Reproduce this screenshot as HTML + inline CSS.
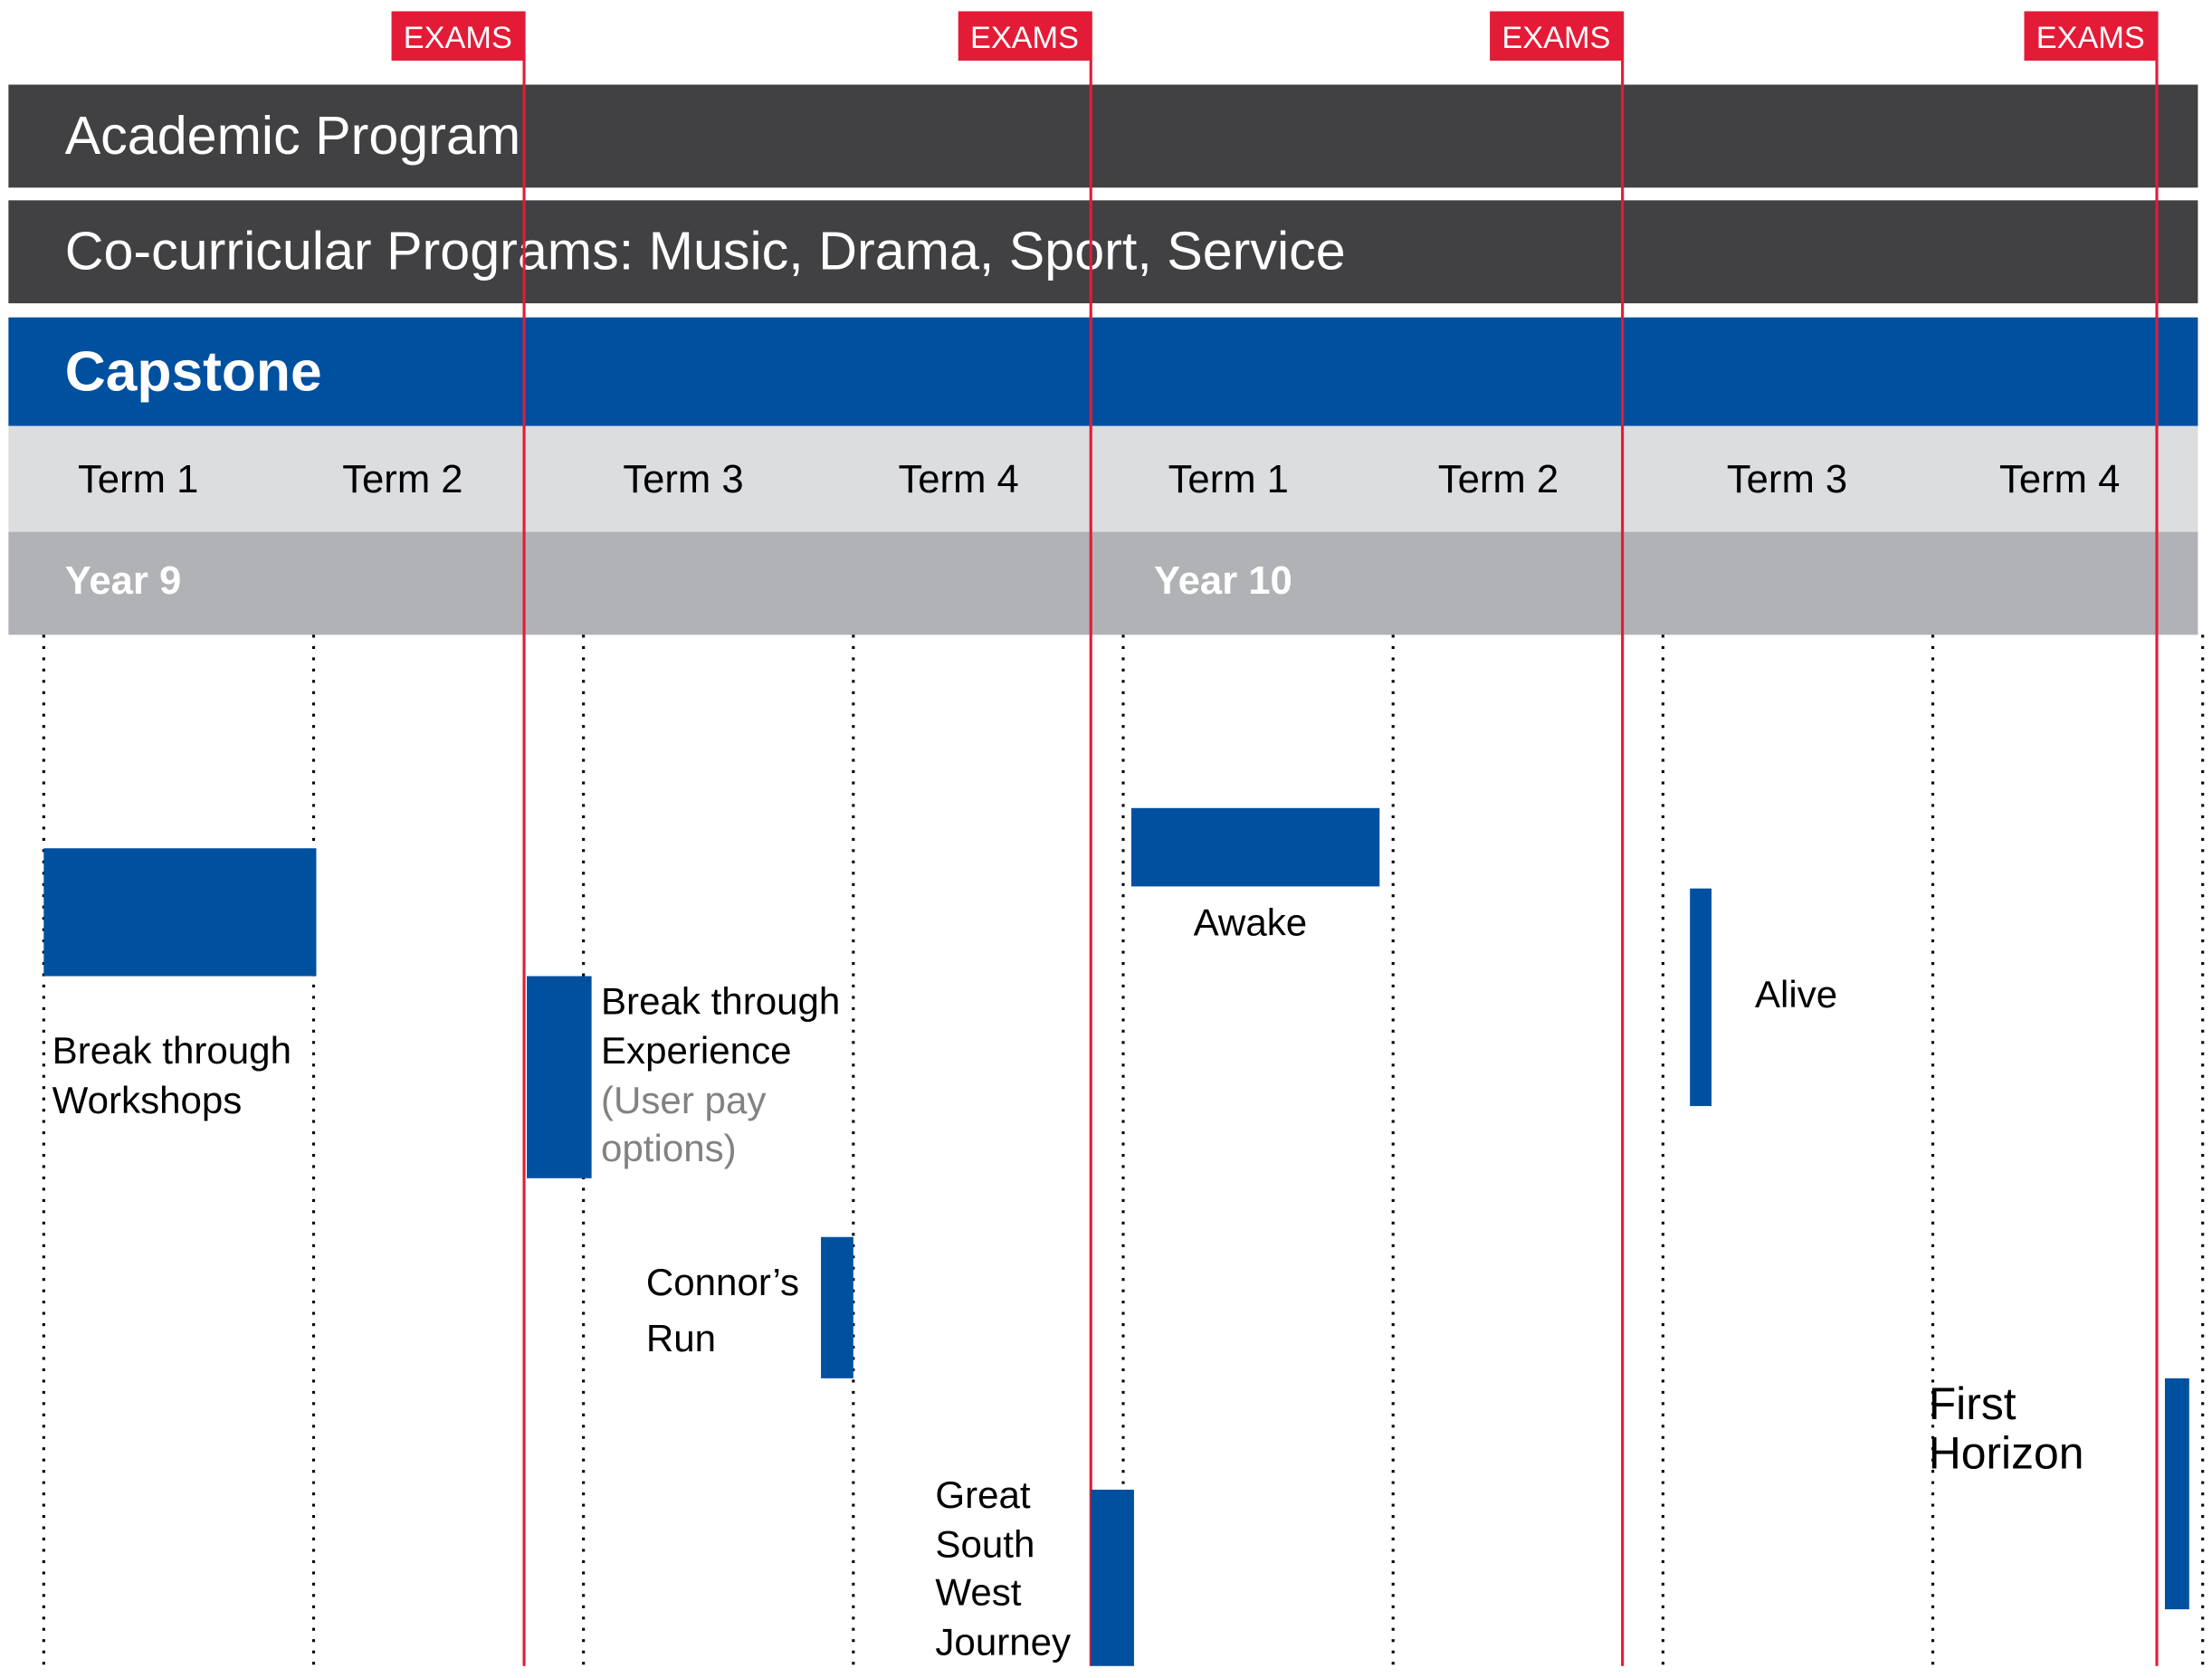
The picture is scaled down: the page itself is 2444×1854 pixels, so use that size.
<!DOCTYPE html>
<html><head><meta charset="utf-8">
<style>
html,body{margin:0;padding:0;background:#fff;}
svg{display:block;}
text{font-family:"Liberation Sans Narrow","Liberation Sans",sans-serif;}
</style></head>
<body>
<svg id="chart" width="2444" height="1854" viewBox="0 0 1568 1189.5" preserveAspectRatio="none" xmlns="http://www.w3.org/2000/svg">
  <rect x="6" y="60" width="1552" height="73" fill="#414042"/>
  <text x="46" y="109" font-size="38" fill="#fff">Academic Program</text>
  <rect x="6" y="142" width="1552" height="73" fill="#414042"/>
  <text x="46" y="191" font-size="38" fill="#fff">Co-curricular Programs: Music, Drama, Sport, Service</text>
  <rect x="6" y="225" width="1552" height="77" fill="#0050a0"/>
  <text x="46" y="277" font-size="40" font-weight="bold" fill="#fff">Capstone</text>
  <rect x="6" y="302" width="1552" height="75" fill="#dcdddf"/>
  <rect x="6" y="377" width="1552" height="73" fill="#b1b2b5"/>
  <text x="46" y="421" font-size="28" font-weight="bold" fill="#fff">Year 9</text>
  <text x="818" y="421" font-size="28" font-weight="bold" fill="#fff">Year 10</text>
  <g id="terms"></g>
  <g id="grid"></g>
  <g id="exams"></g>
  <g id="bars"></g>
  <g font-size="27" fill="#000">
    <text x="37" y="754">Break through</text>
    <text x="37" y="789">Workshops</text>
    <text x="426" y="719">Break through</text>
    <text x="426" y="754">Experience</text>
    <text x="426" y="789" fill="#808285">(User pay</text>
    <text x="426" y="823" fill="#808285">options)</text>
    <text x="458" y="918">Connor’s</text>
    <text x="458" y="958">Run</text>
    <text x="663" y="1069">Great</text>
    <text x="663" y="1104">South</text>
    <text x="663" y="1138">West</text>
    <text x="663" y="1173">Journey</text>
    <text x="846" y="663">Awake</text>
    <text x="1244" y="714">Alive</text>
    <text x="1367" y="1006" font-size="32">First</text>
    <text x="1367" y="1041" font-size="32">Horizon</text>
  </g>
</svg>
<script>
const termLabels = ["Term 1","Term 2","Term 3","Term 4","Term 1","Term 2","Term 3","Term 4"];
const termLabelX = [0.35,1.33,2.37,3.39,4.39,5.39,6.46,7.47];
const examTerms = [1.78,3.88,5.85,7.83];
const barNames = ["workshops","experience","connors-run","great-south-west","awake","alive","first-horizon"];
const barStart = [0,1.79,2.88,3.88,4.03,6.1,7.86];
const barEnd = [1.01,2.03,3.0,4.04,4.95,6.18,7.95];
const barTop = [20.7,33.1,58.4,82.9,16.8,24.6,72.1];
const barBottom = [33.1,52.7,72.1,100,24.4,45.7,94.5];

const NS = "http://www.w3.org/2000/svg";
const x = t => 31 + t * 191.3;
const y = v => 450 + v * 7.31;
function mk(tag, parent, attrs){ const e=document.createElementNS(NS,tag); for(const k in attrs) e.setAttribute(k,attrs[k]); parent.appendChild(e); return e; }

const terms = document.getElementById('terms');
termLabels.forEach((lab,i)=>{
  const t = mk('text', terms, {x:x(termLabelX[i]), y:349, 'font-size':28, fill:'#000', 'text-anchor':'middle'});
  
  
  t.textContent = lab;
});

const grid = document.getElementById('grid');
for(let i=0;i<=8;i++){
  const l = mk('line', grid, {x1:x(i), x2:x(i), y1:450, y2:1181, stroke:'#000', 'stroke-width':2, 'stroke-dasharray':'2 6'});
  
  
}

const ex = document.getElementById('exams');
examTerms.forEach(t=>{
  const px = x(t);
  const r = mk('rect', ex, {x:px-94, y:8, width:94, height:35, fill:'#e31b37'});
  
  
  const ln = mk('line', ex, {x1:px, x2:px, y1:8, y2:1181, stroke:'#e31b37', 'stroke-width':2});
  
  
  const tx = mk('text', ex, {x:px-47, y:34, 'font-size':22, fill:'#fff', 'text-anchor':'middle'});
  
  
  tx.textContent = 'EXAMS';
});
// re-draw header bars over red lines where they cover them
const svg = document.getElementById('chart');
['academic-program-bar','co-curricular-bar','capstone-bar','term-row','year-row'].forEach(()=>{});

const bars = document.getElementById('bars');
barNames.forEach((n,i)=>{
  const r = mk('rect', bars, {x:x(barStart[i]), y:y(barTop[i]), width:x(barEnd[i])-x(barStart[i]), height:y(barBottom[i])-y(barTop[i]), fill:'#0050a0'});
  
  
});
</script>
</body></html>
